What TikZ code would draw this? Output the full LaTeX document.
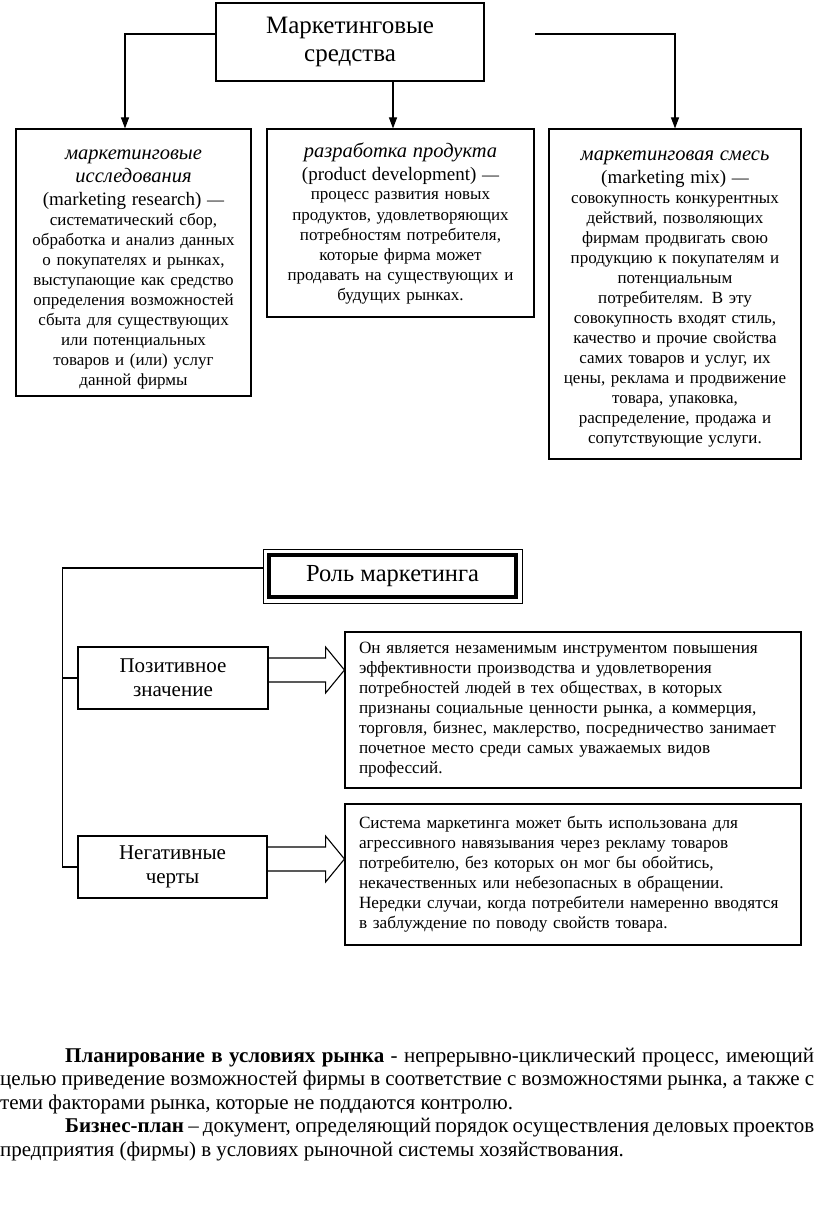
\documentclass[tikz,border=0pt]{standalone}
\usepackage{fontspec}
\setmainfont{Liberation Serif}
\usetikzlibrary{arrows.meta,calc}
\begin{document}
\begin{tikzpicture}[x=1pt,y=-1pt,
  box/.style={draw, line width=1.1pt, align=center, inner xsep=4pt, inner ysep=0pt},
  conn/.style={line width=1.1pt, -{Triangle[length=11pt,width=8pt]}},
  link/.style={line width=1.1pt},
  blockarrow/.style={line width=1.1pt, line join=miter},
  body/.style={font=\fontsize{17}{20}\selectfont},
  infobox/.style={draw, line width=1.1pt, align=left, inner xsep=14pt, inner ysep=0pt, text width=428pt, minimum width=456pt, font=\fontsize{17.2}{20}\selectfont},
  sidebox/.style={draw, line width=1.1pt, align=center, minimum width=190pt, minimum height=62pt, font=\fontsize{21}{24}\selectfont},
  para/.style={anchor=base west, inner sep=0pt, font=\fontsize{21}{24}\selectfont}
]
\useasboundingbox (0,0) rectangle (816,1214);
\newcommand{\hi}{\fontsize{20.5}{23}\selectfont\itshape}
\newcommand{\hu}{\fontsize{19}{23}\selectfont}

% top
\node[box, minimum width=268pt, minimum height=78pt, font=\fontsize{25}{28}\selectfont] (top) at (350,42) {Маркетинговые\\средства};

\node[box, body, text width=227pt, minimum width=235pt, minimum height=267pt] (res) at (133.5,262.5)
{\rule{0pt}{24pt}{\hi маркетинговые}\\[3pt]
 {\hi исследования}\\[3pt]
 {\hu (marketing research)} —\\
 систематический сбор,\\
 обработка и анализ данных\\
 о покупателях и рынках,\\
 выступающие как средство\\
 определения возможностей\\
 сбыта для существующих\\
 или потенциальных\\
 товаров и (или) услуг\\
 данной фирмы};

\node[box, body, text width=259pt, minimum width=267pt, minimum height=188pt] (dev) at (400.5,223)
{{\hi разработка продукта}\\[3pt]
 {\hu (product development)} —\\
 процесс развития новых\\
 продуктов, удовлетворяющих\\
 потребностям потребителя,\\
 которые фирма может\\
 продавать на существующих и\\
 будущих рынках.};

\node[box, body, text width=244pt, minimum width=252pt, minimum height=330pt] (mix) at (675,294)
{\rule{0pt}{19pt}{\hi маркетинговая смесь}\\[3pt]
 {\hu (marketing mix)} —\\
 совокупность конкурентных\\
 действий, позволяющих\\
 фирмам продвигать свою\\
 продукцию к покупателям и\\
 потенциальным\\
 потребителям. В эту\\
 совокупность входят стиль,\\
 качество и прочие свойства\\
 самих товаров и услуг, их\\
 цены, реклама и продвижение\\
 товара, упаковка,\\
 распределение, продажа и\\
 сопутствующие услуги.};

\draw[conn] ([yshift=8pt]top.west) -| ([xshift=-8.5pt]res.north);
\draw[conn] ([xshift=-7.5pt]dev.north |- top.south) -- ([xshift=-7.5pt]dev.north);
\coordinate (rstart) at (535,34);
\draw[conn] (rstart) -| (mix.north);

% role
\node[draw, line width=0.8pt, minimum width=259pt, minimum height=54pt, font=\fontsize{24.5}{28}\selectfont] (role) at (392.5,576) {Роль маркетинга};
\draw[line width=4pt] ([shift={(6pt,-6pt)}]role.north west) rectangle ([shift={(-6pt,6pt)}]role.south east);

\node[sidebox] (pos) at (173,678) {Позитивное\\значение};
\node[sidebox, minimum width=189pt] (neg) at (172.5,867) {Негативные\\черты};

\draw[link] ([yshift=8pt]role.west) -| ([xshift=-15pt]neg.west) -- (neg.west);
\draw[link] ([xshift=-15pt]pos.west) -- (pos.west);

\node[infobox, minimum height=156pt] (info1) at (573,710)
{Он является незаменимым инструментом повышения\\
эффективности производства и удовлетворения\\
потребностей людей в тех обществах, в которых\\
признаны социальные ценности рынка, а коммерция,\\
торговля, бизнес, маклерство, посредничество занимает\\
почетное место среди самых уважаемых видов\\
профессий.};

\node[infobox, minimum height=141pt] (info2) at (573,874.5)
{Система маркетинга может быть использована для\\
агрессивного навязывания через рекламу товаров\\
потребителю, без которых он мог бы обойтись,\\
некачественных или небезопасных в обращении.\\
Нередки случаи, когда потребители намеренно вводятся\\
в заблуждение по поводу свойств товара.};

\coordinate (a1) at ([yshift=8pt]pos.east);
\draw[blockarrow] ($(a1)+(0,-12)$) -- ($(a1)+(57,-12)$) -- ($(a1)+(57,-23)$) -- (a1 -| info1.west) -- ($(a1)+(57,23)$) -- ($(a1)+(57,12)$) -- ($(a1)+(0,12)$);
\coordinate (a2) at ([yshift=8pt]neg.east);
\draw[blockarrow] ($(a2)+(0,-12)$) -- ($(a2)+(58,-12)$) -- ($(a2)+(58,-23)$) -- (a2 -| info2.west) -- ($(a2)+(58,23)$) -- ($(a2)+(58,12)$) -- ($(a2)+(0,12)$);

% paragraph text
\node[para] (p1) at (65,1062) {\makebox[749pt][s]{\textbf{Планирование в условиях рынка} - непрерывно-циклический процесс, имеющий}};
\node[para] (p2) at (0,1085.5) {\makebox[814pt][s]{целью приведение возможностей фирмы в соответствие с возможностями рынка, а также с}};
\node[para] (p3) at (0,1109) {теми факторами рынка, которые не поддаются контролю.};
\node[para] (p4) at (65,1132.5) {\makebox[749pt][s]{\textbf{Бизнес-план} – документ, определяющий порядок осуществления деловых проектов}};
\node[para] (p5) at (0,1156) {предприятия (фирмы) в условиях рыночной системы хозяйствования.};
\end{tikzpicture}
\end{document}
